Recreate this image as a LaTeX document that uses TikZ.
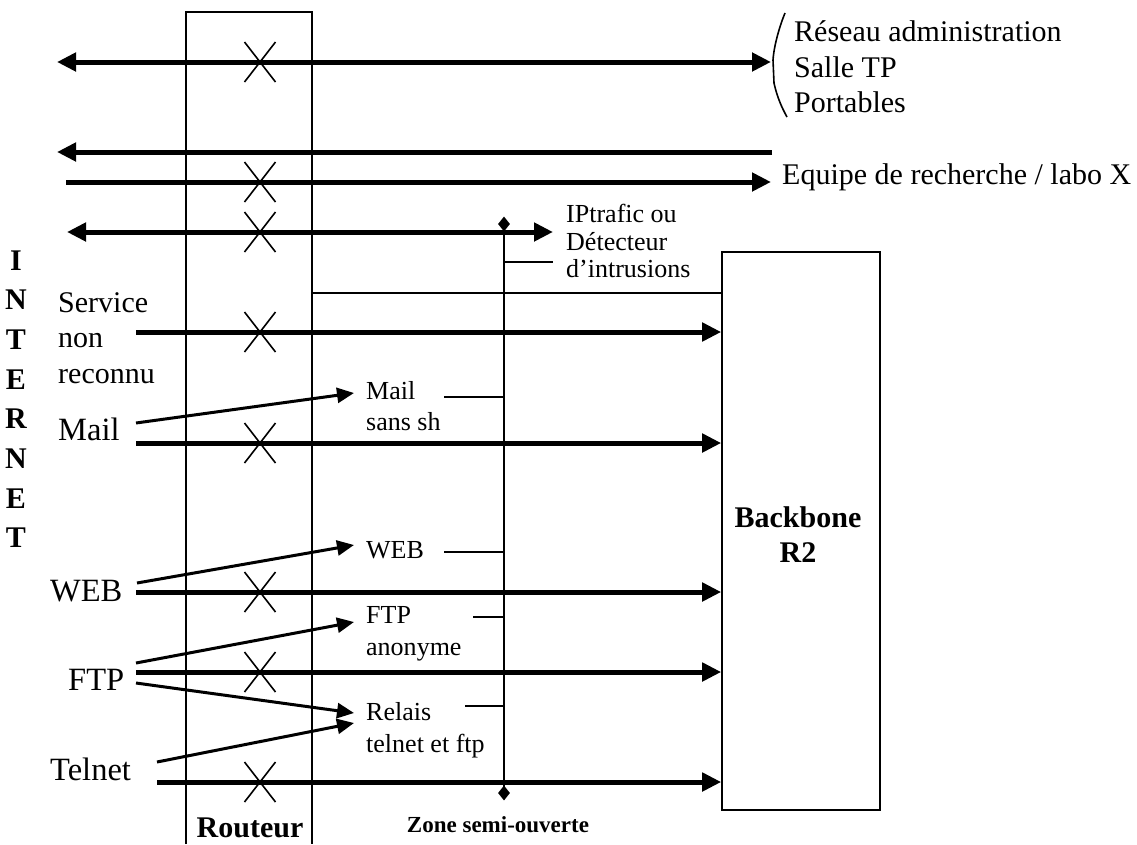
\documentclass[tikz,border=0pt]{standalone}
\usepackage{fontspec}
\setmainfont{Liberation Serif}
\usetikzlibrary{arrows.meta,shapes.geometric}
\begin{document}
\begin{tikzpicture}[x=1pt,y=-1pt,
  thickarrow/.style={line width=5pt,-{Triangle[length=19pt,width=18pt]}},
  thickdouble/.style={line width=5pt,{Triangle[length=19pt,width=18pt]}-{Triangle[length=19pt,width=18pt]}},
  thinarrow/.style={line width=3pt,-{Triangle[length=17pt,width=15pt]}},
  thinline/.style={line width=1.6pt},
  txtL/.style={inner sep=0pt,anchor=base west,font=\fontsize{30}{35}\selectfont},
  txtM/.style={inner sep=0pt,anchor=base west,font=\fontsize{32.5}{38}\selectfont},
  txtS/.style={inner sep=0pt,anchor=base west,font=\fontsize{26}{30}\selectfont},
  txtB/.style={inner sep=0pt,anchor=base,font=\bfseries\fontsize{30}{35}\selectfont},
  marker/.style={diamond,fill=black,inner sep=0pt,minimum width=12pt,minimum height=15pt},
]
\useasboundingbox (0,0) rectangle (1137,844);

% Router box (open at the bottom)
\coordinate (rBL) at (186,844);
\coordinate (rTL) at (186,12);
\coordinate (rTR) at (312,12);
\coordinate (rBR) at (312,844);
\draw[thinline] (rBL) -- (rTL) -- (rTR) -- (rBR);
\node[txtB] (routeur) at (250,837) {Routeur};

% Backbone box
\node[draw,line width=1.6pt,minimum width=158pt,minimum height=558pt,inner sep=0pt] (bb) at (801,531) {};
\node[txtB] (bb1) at (798,527) {Backbone};
\node[txtB] (bb2) at (798,562) {R2};

% Router-to-backbone line
\coordinate (rl) at (312,293);
\draw[thinline] (rl) -- (rl -| bb.west);

% Zone semi-ouverte
\node[marker] (dtop) at (504,224) {};
\node[marker] (dbot) at (504,793) {};
\draw[thinline] (dtop.center) -- (dbot.center);
\node[inner sep=0pt,anchor=base,font=\bfseries\fontsize{23}{27}\selectfont] (zone) at (498,832) {Zone semi-ouverte};

% INTERNET
\foreach \l [count=\i] in {I,N,T,E,R,N,E,T}
  \node[txtB] (inet\i) at (16,{270+39.7*(\i-1)}) {\l};

% Row 1
\coordinate (a1) at (57,62); \coordinate (b1) at (771,62);
\draw[thickdouble] (a1) -- (b1);
\draw[thinline] (785,13) .. controls (780,25) and (774,45) .. (773,60) -- (774,83) .. controls (777,97) and (782,108) .. (787,117);
\node[txtL] (t1a) at (794,41) {Réseau administration};
\node[txtL] (t1b) at (794,77) {Salle TP};
\node[txtL] (t1c) at (794,112) {Portables};

% Rows 2 and 3
\coordinate (a2) at (772,152); \coordinate (b2) at (57,152);
\draw[thickarrow] (a2) -- (b2);
\coordinate (a3) at (66,182); \coordinate (b3) at (771,182);
\draw[thickarrow] (a3) -- (b3);
\node[txtL] (equipe) at (782,184) {Equipe de recherche / labo X};

% Row 4
\coordinate (a4) at (67,232); \coordinate (b4) at (553,232);
\draw[thickdouble] (a4) -- (b4);
\node[txtS] (ip1) at (566,222) {IPtrafic ou};
\node[txtS] (ip2) at (566,250) {Détecteur};
\node[txtS] (ip3) at (566,277) {d’intrusions};
\coordinate (tip) at (553,262);
\draw[thinline] (tip -| dtop) -- (tip);

% Service non reconnu
\node[txtL] (s1) at (58,312) {Service};
\node[txtL] (s2) at (58,347) {non};
\node[txtL] (s3) at (58,383) {reconnu};
\coordinate (a5) at (136,332);
\draw[thickarrow] (a5) -- (a5 -| bb.west);

% Mail
\node[txtM] (mail) at (58,440) {Mail};
\coordinate (a6) at (136,443);
\draw[thickarrow] (a6) -- (a6 -| bb.west);
\coordinate (m1) at (136,423); \coordinate (m2) at (354,393);
\draw[thinarrow] (m1) -- (m2);
\node[txtS] (smail1) at (366,399) {Mail};
\node[txtS] (smail2) at (366,430) {sans sh};
\coordinate (tm) at (444,397);
\draw[thinline] (tm) -- (tm -| dtop);

% WEB
\node[txtM] (web) at (50,601) {WEB};
\coordinate (a7) at (136,592);
\draw[thickarrow] (a7) -- (a7 -| bb.west);
\coordinate (w1) at (137,583); \coordinate (w2) at (354,545);
\draw[thinarrow] (w1) -- (w2);
\node[txtS] (sweb) at (366,558) {WEB};
\coordinate (tw) at (444,552);
\draw[thinline] (tw) -- (tw -| dtop);

% FTP
\node[txtM] (ftp) at (68,690) {FTP};
\coordinate (a8) at (136,672);
\draw[thickarrow] (a8) -- (a8 -| bb.west);
\coordinate (f1) at (136,663); \coordinate (f2) at (354,622);
\draw[thinarrow] (f1) -- (f2);
\coordinate (f3) at (136,683); \coordinate (f4) at (354,713);
\draw[thinarrow] (f3) -- (f4);
\node[txtS] (sftp1) at (366,623) {FTP};
\node[txtS] (sftp2) at (366,655) {anonyme};
\coordinate (tf) at (473,617);
\draw[thinline] (tf) -- (tf -| dtop);

% Telnet
\node[txtM] (telnet) at (50,780) {Telnet};
\coordinate (a9) at (157,782);
\draw[thickarrow] (a9) -- (a9 -| bb.west);
\coordinate (n1) at (157,762); \coordinate (n2) at (354,723);
\draw[thinarrow] (n1) -- (n2);
\node[txtS] (rel1) at (366,720) {Relais};
\node[txtS] (rel2) at (366,752) {telnet et ftp};
\coordinate (tr) at (465,706);
\draw[thinline] (tr) -- (tr -| dtop);

% Crosses in the router
\foreach \yy [count=\k] in {62,182,232,332,443,592,672,782} {
  \coordinate (xc\k) at (260,\yy);
  \draw[thinline] ([shift={(-15.5,-20)}]xc\k) -- ([shift={(15.5,20)}]xc\k)
                  ([shift={(-15.5,20)}]xc\k) -- ([shift={(15.5,-20)}]xc\k);
}
\end{tikzpicture}
\end{document}
